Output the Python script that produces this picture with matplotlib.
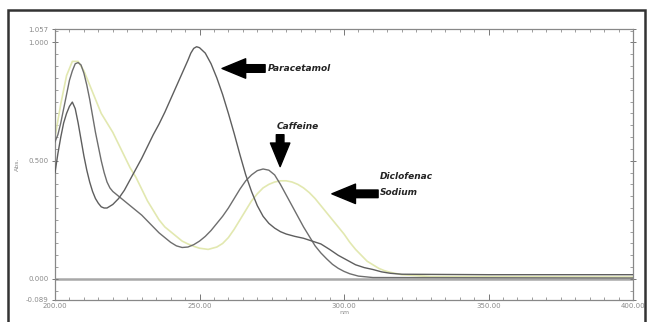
import matplotlib
matplotlib.use('Agg')
import matplotlib.pyplot as plt
from matplotlib.patches import Rectangle
from matplotlib.ticker import MultipleLocator

# wavelengths (nm) and absorbance
para_nm = [200, 201, 202, 203, 204, 205, 206, 207, 208, 209, 210, 211, 212, 213, 214, 215, 216, 217, 218,
           220, 222, 224, 226, 228, 230, 232, 234, 236, 238, 240, 242, 244, 246, 247, 248, 249, 250, 252,
           254, 256, 258, 260, 262, 264, 266, 268, 270, 272, 274, 276, 278, 280, 283, 286, 289, 292, 295,
           298, 301, 304, 307, 310, 313, 316, 320, 350, 400]
para_abs = [0.45, 0.53, 0.60, 0.66, 0.70, 0.73, 0.748, 0.72, 0.66, 0.59, 0.52, 0.46, 0.41, 0.37, 0.34, 0.32,
            0.305, 0.30, 0.30, 0.315, 0.34, 0.375, 0.42, 0.465, 0.51, 0.56, 0.61, 0.655, 0.705, 0.76, 0.815,
            0.87, 0.925, 0.955, 0.975, 0.982, 0.978, 0.955, 0.91, 0.85, 0.78, 0.70, 0.615, 0.525, 0.44,
            0.37, 0.31, 0.265, 0.235, 0.215, 0.20, 0.19, 0.18, 0.172, 0.16, 0.148, 0.125, 0.10, 0.08, 0.06,
            0.048, 0.04, 0.03, 0.024, 0.02, 0.018, 0.018]

caff_nm = [200, 201, 202, 203, 204, 205, 206, 207, 208, 209, 210, 211, 212, 213, 214, 215, 216, 217, 218,
           219, 220, 222, 224, 226, 228, 230, 232, 234, 236, 238, 240, 242, 244, 246, 248, 250, 252, 254,
           256, 258, 260, 262, 264, 266, 268, 270, 272, 274, 276, 278, 280, 282, 284, 286, 288, 290, 292,
           294, 296, 298, 300, 302, 305, 310, 400]
caff_abs = [0.58, 0.61, 0.66, 0.72, 0.78, 0.84, 0.88, 0.91, 0.915, 0.905, 0.87, 0.82, 0.76, 0.69, 0.62,
            0.56, 0.50, 0.45, 0.41, 0.385, 0.37, 0.35, 0.33, 0.31, 0.29, 0.27, 0.245, 0.22, 0.195, 0.175,
            0.155, 0.14, 0.133, 0.135, 0.145, 0.16, 0.18, 0.205, 0.235, 0.265, 0.30, 0.34, 0.38, 0.415,
            0.44, 0.458, 0.465, 0.46, 0.44, 0.40, 0.355, 0.31, 0.265, 0.22, 0.18, 0.14, 0.11, 0.085, 0.062,
            0.045, 0.032, 0.022, 0.012, 0.006, 0.004]

diclo_nm = [200, 202, 204, 206, 208, 210, 212, 214, 216, 218, 220, 222, 224, 226, 228, 230, 232, 234, 236,
            238, 240, 242, 244, 246, 248, 250, 253, 256, 258, 260, 262, 264, 266, 268, 270, 272, 274, 276,
            278, 280, 282, 284, 286, 288, 290, 292, 294, 296, 298, 300, 302, 304, 306, 308, 310, 312, 314,
            316, 320, 330, 400]
diclo_abs = [0.60, 0.74, 0.86, 0.92, 0.92, 0.88, 0.82, 0.76, 0.70, 0.66, 0.62, 0.57, 0.52, 0.47, 0.43,
             0.38, 0.33, 0.29, 0.25, 0.22, 0.20, 0.18, 0.16, 0.148, 0.138, 0.13, 0.125, 0.135, 0.15, 0.175,
             0.21, 0.25, 0.29, 0.33, 0.36, 0.385, 0.40, 0.41, 0.415, 0.415, 0.41, 0.40, 0.385, 0.365, 0.34,
             0.31, 0.28, 0.25, 0.22, 0.19, 0.155, 0.125, 0.10, 0.075, 0.06, 0.045, 0.035, 0.028, 0.018, 0.01,
             0.008]

xticks = [200, 250, 300, 350, 400]
xtick_labels = ['200.00', '250.00', '300.00', '350.00', '400.00']
yticks = [-0.089, 0.0, 0.5, 1.0, 1.057]
ytick_labels = ['-0.089', '0.000', '0.500', '1.000', '1.057']

fig = plt.figure(figsize=(6.47, 3.22), dpi=100)
ax = fig.add_axes([55/647, 1 - 300/322, (633-55)/647, (300-29)/322])

ax.axhline(0, color='#a8a8a8', lw=1.8, zorder=1)
ax.plot(diclo_nm, diclo_abs, color='#e2e8b0', lw=1.2, zorder=2)
ax.plot(caff_nm, caff_abs, color='#6e6e6e', lw=1.0, zorder=3)
ax.plot(para_nm, para_abs, color='#5e5e5e', lw=1.0, zorder=4)

ax.set_xlim(200, 400)
ax.set_ylim(-0.089, 1.057)
ax.set_xticks(xticks)
ax.set_xticklabels(xtick_labels)
ax.set_yticks(yticks)
ax.set_yticklabels(ytick_labels)
ax.xaxis.set_minor_locator(MultipleLocator(5))
ax.yaxis.set_minor_locator(MultipleLocator(0.05))
ax.tick_params(which='both', direction='in', top=True, right=True, colors='#777777',
               labelsize=5, labelcolor='#8a8a8a', pad=2)
ax.tick_params(which='major', length=4, width=0.7)
ax.tick_params(which='minor', length=2, width=0.5)
ax.tick_params(axis='y', which='major', direction='inout', length=5)
for s in ax.spines.values():
    s.set_color('#888888')
    s.set_linewidth(0.9)

ax.set_xlabel('nm', fontsize=4.5, color='#8a8a8a', labelpad=1)
ax.set_ylabel('Abs.', fontsize=4.5, color='#8a8a8a', labelpad=4)

fnt = dict(fontsize=6.5, fontweight='bold', fontstyle='italic', color='#222222')
arr = dict(arrowstyle='simple,head_length=1.7,head_width=1.4,tail_width=0.55',
           fc='black', ec='black', mutation_scale=10, shrinkA=0, shrinkB=0)

# Paracetamol
ax.annotate('', xy=(257.8, 0.89), xytext=(272.7, 0.89), arrowprops=arr)
ax.text(273.6, 0.89, 'Paracetamol', ha='left', va='center', **fnt)
# Caffeine
ax.text(284.1, 0.645, 'Caffeine', ha='center', va='center', **fnt)
ax.annotate('', xy=(277.9, 0.475), xytext=(277.9, 0.61), arrowprops=arr)
# Diclofenac sodium
ax.annotate('', xy=(295.8, 0.36), xytext=(311.8, 0.36), arrowprops=arr)
ax.text(312.5, 0.435, 'Diclofenac', ha='left', va='center', **fnt)
ax.text(312.5, 0.365, 'Sodium', ha='left', va='center', **fnt)

# outer picture frame
fig.patches.append(Rectangle((8/647, -0.05), (645-8)/647, 1.05 - 10/322, transform=fig.transFigure,
                             fill=False, ec='#333333', lw=1.8))

fig.savefig('out.png', dpi=100)
